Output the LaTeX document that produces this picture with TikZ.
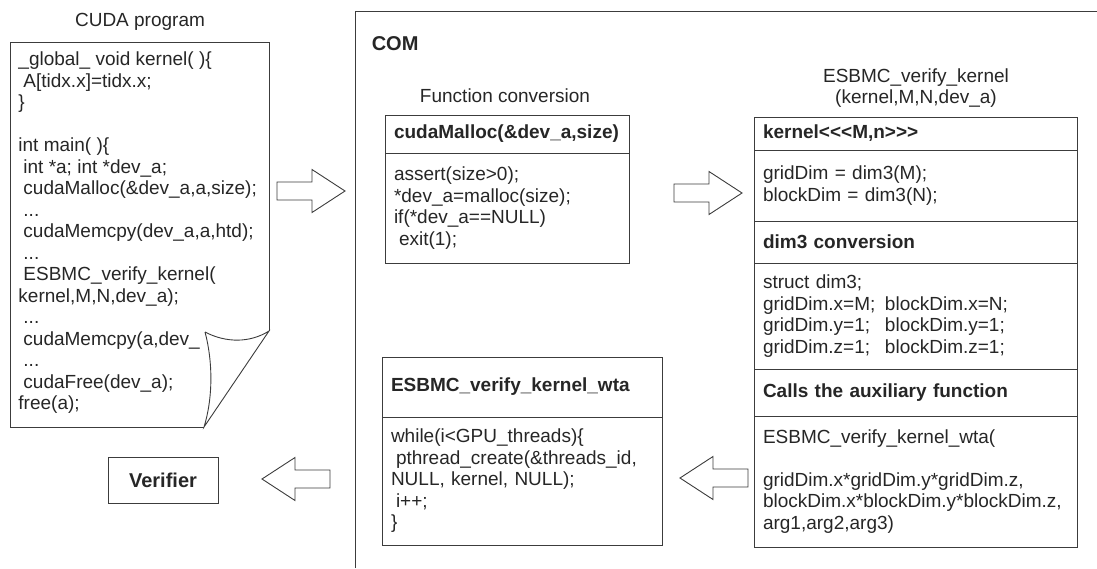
\documentclass[tikz,border=0pt]{standalone}
\usepackage{fontspec}
\setmainfont{Liberation Sans}
\definecolor{ink}{HTML}{262626}
\definecolor{edge}{HTML}{3C3C3C}
\newcommand{\bodyfont}{\fontsize{19}{21.5}\selectfont}
\newcommand{\bigfont}{\fontsize{20}{24}\selectfont\bfseries}
\newcommand{\ind}{\hspace*{5pt}}
\newcommand{\ltch}{\textless\kern0pt}
\newcommand{\gtch}{\textgreater\kern0pt}

\begin{document}
\begin{tikzpicture}[x=1pt,y=-1pt,line width=0.9pt,color=edge,
  every node/.style={text=ink,font=\bodyfont},
  sect/.style={draw=edge,anchor=north west,align=left,inner xsep=9pt,inner ysep=2pt,outer sep=0pt},
  hd/.style={sect,font=\bodyfont\bfseries}]

\useasboundingbox (0,0) rectangle (1097,568);

% the CUDA source page
\node (cudattl) at (140,22) {CUDA program};
\draw (204,427) -- (10,427) -- (10,42) -- (269,42) -- (269,331);
\node[anchor=west,align=left,inner sep=0pt] (cudasrc) at (18,233)
 {\_global\_ void kernel( )\{\\
  \ind A[tidx.x]=tidx.x;\\
  \}\\[21.5pt]
  int main( )\{\\
  \ind int *a; int *dev\_a;\\
  \ind cudaMalloc(\&dev\_a,a,size);\\
  \ind ...\\
  \ind cudaMemcpy(dev\_a,a,htd);\\
  \ind ...\\
  \ind ESBMC\_verify\_kernel(\\
  kernel,M,N,dev\_a);\\
  \ind ...\\
  \ind cudaMemcpy(a,dev\_\\
  \ind ...\\
  \ind cudaFree(dev\_a);\\
  free(a);};
\draw[fill=white] (205,332) .. controls (226,343) and (250,343) .. (269,331)
  -- (204,427) .. controls (213,398) and (213,362) .. (205,332);

% COM frame
\draw (355,568) -- (355,11) -- (1097,11);
\node[anchor=west,font=\bigfont] (com) at (368,44) {COM};

% function conversion
\node (fcttl) at (505,96) {Function conversion};
\node[hd,text width=226pt,minimum height=38pt] (fchead) at (385,115)
 {cudaMalloc(\&dev\_a,size)};
\node[sect,text width=226pt,minimum height=110pt] (fcbody) at (385,153)
 {assert(size\textgreater 0);\\{}*dev\_a=malloc(size);\\if(*dev\_a==NULL)\\\ind exit(1);};

% kernel call
\node[align=center] (esbttl) at (916,88) {ESBMC\_verify\_kernel\\(kernel,M,N,dev\_a)};
\node[hd,text width=305pt,minimum height=33pt] (kernhead) at (754,117)
 {kernel\ltch\ltch\ltch M,n\gtch\gtch\gtch};
\node[sect,text width=305pt,minimum height=71pt] (kernbody) at (754,150)
 {gridDim = dim3(M);\\blockDim = dim3(N);};
\node[hd,text width=305pt,minimum height=42pt] (dimhead) at (754,221) {dim3 conversion};
\node[sect,text width=305pt,minimum height=106pt] (dimbody) at (754,263)
 {struct dim3;\\
  \makebox[122pt][l]{gridDim.x=M;}blockDim.x=N;\\
  \makebox[122pt][l]{gridDim.y=1;}blockDim.y=1;\\
  \makebox[122pt][l]{gridDim.z=1;}blockDim.z=1;};
\node[hd,text width=305pt,minimum height=47pt] (callhead) at (754,369) {Calls the auxiliary function};
\node[sect,text width=305pt,minimum height=131pt] (callbody) at (754,416)
 {ESBMC\_verify\_kernel\_wta(\\[21.5pt]
  gridDim.x*gridDim.y*gridDim.z,\\
  blockDim.x*blockDim.y*blockDim.z,\\
  arg1,arg2,arg3)};

% threads
\node[hd,text width=262pt,minimum height=60pt] (wtahead) at (382,357) {ESBMC\_verify\_kernel\_wta};
\node[sect,text width=262pt,minimum height=128pt] (wtabody) at (382,417)
 {while(i\textless GPU\_threads)\{\\
  \ind pthread\_create(\&threads\_id,\\
  NULL, kernel, NULL);\\
  \ind i++;\\
  \}};

\node[draw=edge,minimum width=110pt,minimum height=46pt,font=\bigfont] (verif) at (163,480) {Verifier};

% hollow arrows
\foreach \ax/\ay/\dir in {277/191/1, 674/193/1, 748/478/-1, 330/479/-1}
{
\draw[shift={(\ax,\ay)},xscale=\dir]
  (0,-9) -- (35,-9) -- (35,-21.5) -- (68,0) -- (35,21.5) -- (35,9) -- (0,9) -- cycle;
}

\end{tikzpicture}
\end{document}
